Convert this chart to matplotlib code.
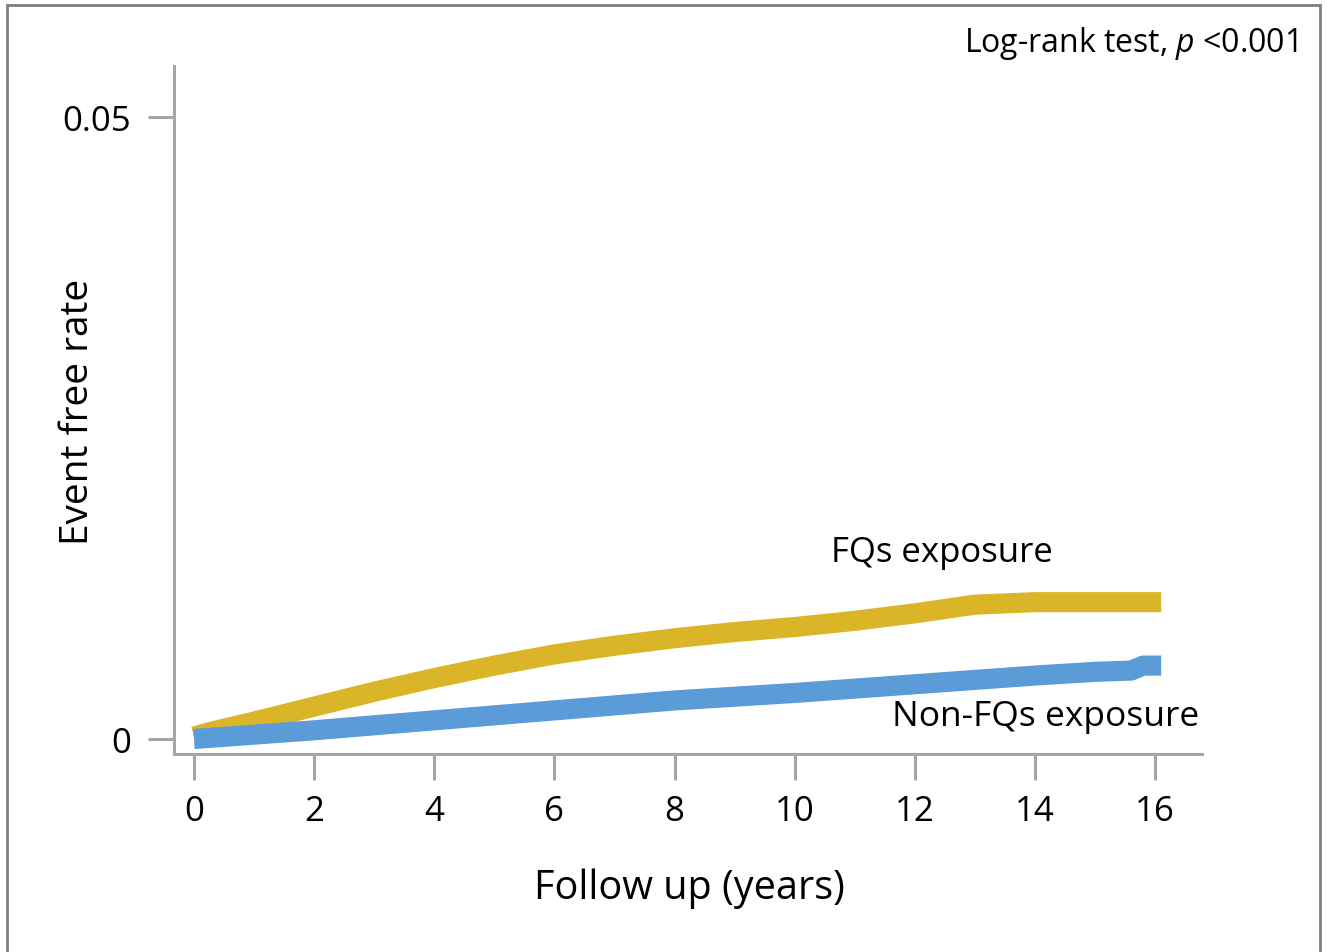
import matplotlib.pyplot as plt
from matplotlib.patches import Rectangle

plt.rcParams['font.family'] = ['Open Sans', 'DejaVu Sans']
plt.rcParams['mathtext.fontset'] = 'custom'
plt.rcParams['mathtext.it'] = 'Open Sans:italic'

# Kaplan-Meier Kurven
fq_years = [0, 0.3, 1, 2, 3, 4, 5, 6, 7, 8, 9, 10, 11, 12, 13, 14, 15, 16, 16.1]
fq_rate = [0.0002, 0.0006, 0.0014, 0.0026, 0.0038, 0.0049, 0.0059, 0.0068, 0.0075,
           0.0081, 0.0086, 0.0090, 0.0095, 0.0101, 0.0108, 0.0110, 0.0110, 0.0110, 0.0110]

nonfq_years = [0, 2, 4, 6, 8, 10, 12, 14, 15, 15.6, 15.8, 16, 16.1]
nonfq_rate = [0.0, 0.0007, 0.0015, 0.0023, 0.0031, 0.0037, 0.0044, 0.0051, 0.0054,
              0.0055, 0.0059, 0.0059, 0.0059]

x_ticks = [0, 2, 4, 6, 8, 10, 12, 14, 16]
y_ticks = [0, 0.05]
y_tick_labels = ['0', '0.05']

W, H = 1327, 953
fig = plt.figure(figsize=(W / 100, H / 100), dpi=100)
ax = fig.add_axes([174 / W, (H - 755) / H, (1202 - 174) / W, (755 - 67) / H])

# Rahmen um die Abbildung
fig.patches.append(Rectangle((7 / W, -0.05), (1320 - 7) / W, (H - 6) / H + 0.05,
                             transform=fig.transFigure, fill=False,
                             edgecolor='#7f7f7f', linewidth=2))

ax.plot(fq_years, fq_rate, color='#DAB528', linewidth=14.5, solid_capstyle='butt')
ax.plot(nonfq_years, nonfq_rate, color='#5B9BD8', linewidth=14.5, solid_capstyle='butt')

ax.set_xlim(-0.333, 16.78)
ax.set_ylim(-0.001206, 0.0541)

gray = '#a6a6a6'
for side in ['top', 'right']:
    ax.spines[side].set_visible(False)
for side in ['left', 'bottom']:
    ax.spines[side].set_color(gray)
    ax.spines[side].set_linewidth(2.2)

ax.set_xticks(x_ticks)
ax.set_yticks(y_ticks)
ax.set_yticklabels(y_tick_labels)
ax.tick_params(axis='both', direction='out', length=19, width=2.2, color=gray,
               labelsize=25)
ax.tick_params(axis='y', pad=12)
ax.tick_params(axis='x', pad=10)

ax.set_xlabel('Follow up (years)', fontsize=28.5)
ax.xaxis.set_label_coords((689 - 174) / 1028, (755 - 869) / 688)
ax.set_ylabel('Event free rate', fontsize=28)
ax.yaxis.set_label_coords((97 - 174) / 1028, (755 - 412) / 688)

ax.text(12.45, 0.0150, 'FQs exposure', fontsize=25, ha='center', va='center')
ax.text(16.73, 0.00185, 'Non-FQs exposure', fontsize=25.5, ha='right', va='center')
fig.text(1297 / W, (H - 43) / H, r'Log-rank test, $\it{p}$ <0.001', fontsize=23,
         ha='right', va='center')

fig.savefig('out.png', dpi=100)
